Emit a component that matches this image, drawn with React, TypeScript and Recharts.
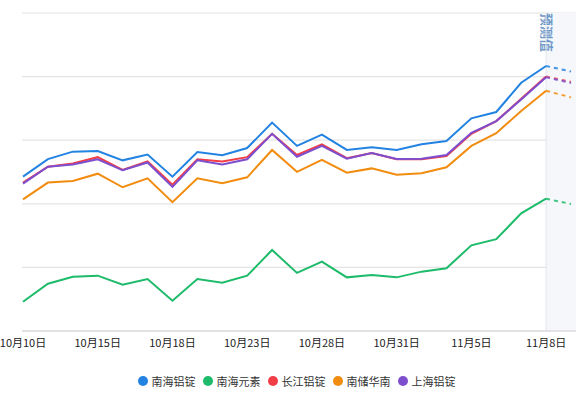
import React from 'react';
import { LineChart, Line, XAxis, YAxis, CartesianGrid, ReferenceArea, ReferenceLine } from 'recharts';

const dates = [
  '10月10日', '10月11日', '10月14日', '10月15日', '10月16日', '10月17日', '10月18日', '10月21日',
  '10月22日', '10月23日', '10月24日', '10月25日', '10月28日', '10月29日', '10月30日', '10月31日',
  '11月1日', '11月4日', '11月5日', '11月6日', '11月7日', '11月8日', '11月11日',
];

// actual prices, 10/10 .. 11/8
const nanhaiIngot = [20728, 20811, 20846, 20849, 20805, 20832, 20728, 20844, 20829, 20863, 20983, 20873, 20926, 20854, 20867, 20854, 20881, 20896, 21003, 21033, 21171, 21250];
const nanhaiElem = [20138, 20223, 20256, 20261, 20218, 20245, 20143, 20245, 20228, 20261, 20382, 20274, 20327, 20253, 20264, 20253, 20280, 20296, 20404, 20433, 20555, 20624];
const changjiang = [20700, 20775, 20790, 20820, 20760, 20800, 20690, 20810, 20800, 20820, 20930, 20830, 20880, 20815, 20840, 20810, 20810, 20825, 20930, 20990, 21095, 21200];
const nanchu = [20621, 20700, 20708, 20742, 20678, 20720, 20608, 20720, 20697, 20725, 20854, 20751, 20807, 20747, 20767, 20737, 20744, 20772, 20873, 20933, 21038, 21133];
const shanghai = [20695, 20775, 20785, 20810, 20758, 20795, 20680, 20805, 20785, 20810, 20930, 20822, 20873, 20813, 20840, 20811, 20813, 20830, 20935, 20990, 21092, 21197];

// forecast for the next date (11/11)
const forecast = { nanhaiIngot: 21224, nanhaiElem: 20599, changjiang: 21175, nanchu: 21102, shanghai: 21170 };

const yTicks = [20000, 20300, 20600, 20900, 21200, 21500];

const series = [
  { key: 'nanhaiIngot', name: '南海铝锭', color: '#2383e2', values: nanhaiIngot },
  { key: 'nanhaiElem', name: '南海元素', color: '#1dbb6a', values: nanhaiElem },
  { key: 'changjiang', name: '长江铝锭', color: '#f23d47', values: changjiang },
  { key: 'nanchu', name: '南储华南', color: '#f28c0f', values: nanchu },
  { key: 'shanghai', name: '上海铝锭', color: '#7d4fcf', values: shanghai },
];

const last = nanhaiIngot.length - 1;

const data = dates.map((d, i) => {
  const row: any = { date: d };
  series.forEach((s) => {
    row[s.key] = i <= last ? s.values[i] : null;
    row[s.key + 'F'] = i === last ? s.values[i] : i === last + 1 ? (forecast as any)[s.key] : null;
  });
  return row;
});

const ForecastShape = (props: any) => {
  const { x, y, width, height } = props;
  return (
    <g>
      <rect x={x} y={y} width={width + 6} height={height} fill="#f5f7fb" />
      <text
        x={0}
        y={0}
        transform={`translate(${x + 1}, ${y}) rotate(90)`}
        fill="#6f98c6"
        fontSize={13}
        fontWeight={600}
        fontFamily="'Noto Sans CJK SC', sans-serif"
        dominantBaseline="central"
        textAnchor="start"
      >
        预测值
      </text>
    </g>
  );
};

const LegendRow = () => (
  <div
    style={{
      position: 'absolute',
      top: 373,
      left: 12,
      width: 576,
      display: 'flex',
      justifyContent: 'center',
      fontFamily: "'Noto Sans CJK SC', sans-serif",
      fontSize: 11,
      color: '#333',
    }}
  >
    {series.map((s) => (
      <div key={s.key} style={{ display: 'flex', alignItems: 'center', marginRight: 7 }}>
        <span style={{ width: 10, height: 10, borderRadius: 5, background: s.color, marginRight: 4, display: 'inline-block' }} />
        <span>{s.name}</span>
      </div>
    ))}
  </div>
);

const App: React.FC = () => (
  <div style={{ position: 'absolute', left: 0, top: 0, width: 576, height: 402, background: '#fff' }}>
    <LineChart width={576} height={402} data={data} margin={{ top: 13, right: 0, left: 22, bottom: 41 }}>
      <ReferenceArea x1={dates[last]} x2={dates[last + 1]} shape={<ForecastShape />} ifOverflow="visible" />
      <CartesianGrid vertical={false} stroke="#e4e4e4" strokeWidth={1.2} />
      <ReferenceLine x={dates[last]} stroke="#e2e6ee" />
      <XAxis
        dataKey="date"
        interval={2}
        padding={{ left: 1, right: 5 }}
        tickLine={false}
        axisLine={{ stroke: '#e2e2e2', strokeWidth: 2 }}
        tick={{ fontSize: 11, fill: '#222', fontFamily: "'Noto Sans CJK SC', sans-serif" }}
        height={30}
      />
      <YAxis hide domain={[20000, 21500]} ticks={yTicks} />
      {series.map((s) => (
        <Line
          key={s.key}
          dataKey={s.key}
          name={s.name}
          stroke={s.color}
          strokeWidth={2}
          dot={false}
          type="linear"
          isAnimationActive={false}
        />
      ))}
      {series.map((s) => (
        <Line
          key={s.key + 'F'}
          dataKey={s.key + 'F'}
          stroke={s.color}
          strokeWidth={2}
          strokeDasharray="4 4"
          strokeOpacity={0.85}
          dot={false}
          type="linear"
          legendType="none"
          isAnimationActive={false}
        />
      ))}
    </LineChart>
    <LegendRow />
  </div>
);

export default App;
